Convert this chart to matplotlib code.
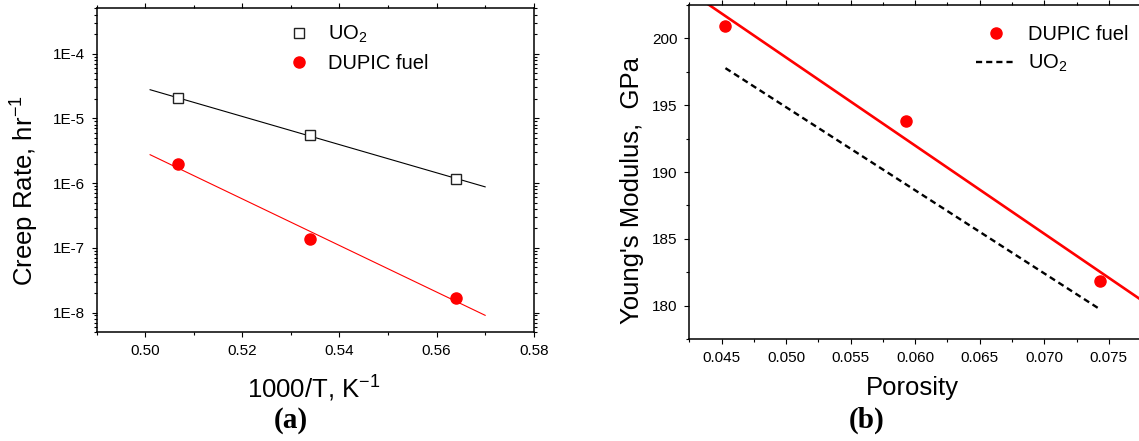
import numpy as np
import matplotlib
matplotlib.use("Agg")
import matplotlib.pyplot as plt
from matplotlib.ticker import MultipleLocator, LogLocator, FuncFormatter, NullFormatter

plt.rcParams['font.family'] = ['Liberation Sans', 'DejaVu Sans']
plt.rcParams['mathtext.fontset'] = 'custom'
plt.rcParams['mathtext.rm'] = 'Liberation Sans'
plt.rcParams['mathtext.it'] = 'Liberation Sans:italic'

# (a) creep rate vs inverse temperature
inv_temp = [0.5067, 0.5340, 0.5639]
creep_uo2 = [2.03e-5, 5.53e-6, 1.16e-6]
creep_dupic = [1.96e-6, 1.37e-7, 1.70e-8]
fit_span_a = [0.501, 0.570]

# (b) Young's modulus vs porosity
porosity = [0.0453, 0.0593, 0.0743]
modulus_dupic = [200.92, 193.84, 181.87]
uo2_porosity = [0.0453, 0.0743]
uo2_modulus = [197.76, 179.75]

W, H = 1139, 441
fig = plt.figure(figsize=(W / 100, H / 100), dpi=100)

tick_kw = dict(direction='out', top=True, right=True, labelsize=11, width=0.8, pad=5)


def style_axes(ax):
    for s in ax.spines.values():
        s.set_linewidth(1.1)
    ax.tick_params(which='major', length=3.6, **tick_kw)
    ax.tick_params(which='minor', length=2.2, direction='out', top=True, right=True, width=0.8)


# ---- panel (a)
ax1 = fig.add_axes([96.7 / W, 1 - 332 / H, (533.7 - 96.7) / W, (332 - 8.3) / H])
x_fit = np.array(fit_span_a)
for yv, col in [(creep_uo2, 'black'), (creep_dupic, 'red')]:
    p = np.polyfit(inv_temp, np.log10(yv), 1)
    ax1.plot(x_fit, 10 ** np.polyval(p, x_fit), color=col, lw=0.8, zorder=1)
ax1.plot(inv_temp, creep_uo2, ls='none', marker='s', ms=7, mfc='white', mec='#222222',
         mew=1.0, label='UO$_2$', zorder=3)
ax1.plot(inv_temp, creep_dupic, ls='none', marker='o', ms=8, mfc='red', mec='red',
         label='DUPIC fuel', zorder=3)
ax1.set_yscale('log')
ax1.set_xlim(0.49, 0.58)
ax1.set_ylim(5e-9, 5e-4)
ax1.xaxis.set_major_locator(MultipleLocator(0.02))
ax1.xaxis.set_minor_locator(MultipleLocator(0.01))
ax1.xaxis.set_major_formatter(FuncFormatter(lambda v, _: f"{v:.2f}"))
ax1.yaxis.set_major_locator(LogLocator(base=10))
ax1.yaxis.set_minor_locator(LogLocator(base=10, subs=np.arange(2, 10)))
ax1.yaxis.set_minor_formatter(NullFormatter())
ax1.yaxis.set_major_formatter(FuncFormatter(lambda v, _: f"1E{int(round(np.log10(v)))}"))
style_axes(ax1)
ax1.set_ylabel('Creep Rate, hr$^{-1}$', fontsize=18.5, va='center')
ax1.yaxis.set_label_coords(-0.164, 0.436)
ax1.set_xlabel('1000/T, K$^{-1}$', fontsize=18.5, va='center')
ax1.xaxis.set_label_coords(0.497, -0.176)
ax1.legend(loc='upper left', bbox_to_anchor=(287 / W, 1 - 24 / H), bbox_transform=fig.transFigure,
           frameon=False, fontsize=14.5, handlelength=1.2, handletextpad=0.85,
           labelspacing=0.45, borderpad=0, borderaxespad=0)
fig.text(291 / W, 1 - 421 / H, '(a)', family='Liberation Serif', fontweight='bold',
         fontsize=21, ha='center', va='center')

# ---- panel (b)
x_lo, x_hi = 0.0425, 0.0775
px_per = 64.55 / 0.005
ax2 = fig.add_axes([689.3 / W, 1 - 339.3 / H, (x_hi - x_lo) * px_per / W, (339.3 - 4.7) / H])
p = np.polyfit(porosity, modulus_dupic, 1)
xs = np.array([x_lo, x_hi])
ax2.plot(xs, np.polyval(p, xs), color='red', lw=1.9, zorder=1)
ax2.plot(porosity, modulus_dupic, ls='none', marker='o', ms=8, mfc='red', mec='red',
         label='DUPIC fuel', zorder=3)
ax2.plot(uo2_porosity, uo2_modulus, color='black', lw=1.7, dashes=(2.6, 1.7), label='UO$_2$')
ax2.set_xlim(x_lo, x_hi)
ax2.set_ylim(177.5, 202.5)
ax2.xaxis.set_major_locator(MultipleLocator(0.005))
ax2.xaxis.set_minor_locator(MultipleLocator(0.0025))
ax2.xaxis.set_major_formatter(FuncFormatter(lambda v, _: f"{v:.3f}"))
ax2.yaxis.set_major_locator(MultipleLocator(5))
ax2.yaxis.set_minor_locator(MultipleLocator(2.5))
ax2.yaxis.set_major_formatter(FuncFormatter(lambda v, _: f"{v:.0f}"))
style_axes(ax2)
ax2.set_ylabel("Young's Modulus,  GPa", fontsize=18.5, va='center')
ax2.yaxis.set_label_coords(-0.127, 0.446)
ax2.set_xlabel('Porosity', fontsize=18.5, va='center')
ax2.xaxis.set_label_coords(0.494, -0.147)
ax2.legend(loc='upper left', bbox_to_anchor=(976 / W, 1 - 25 / H), bbox_transform=fig.transFigure,
           frameon=False, fontsize=14.5, handlelength=2.0, handletextpad=0.6,
           labelspacing=0.45, borderpad=0, borderaxespad=0)
fig.text(867 / W, 1 - 420 / H, '(b)', family='Liberation Serif', fontweight='bold',
         fontsize=21, ha='center', va='center')

fig.savefig('out.png', dpi=100)
